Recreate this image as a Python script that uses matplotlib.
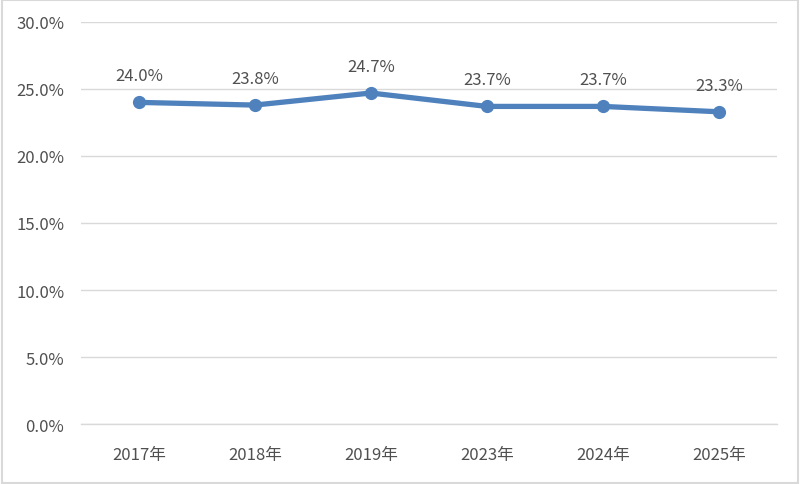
import matplotlib
matplotlib.use("Agg")
from matplotlib import pyplot as plt
from matplotlib.patches import Rectangle
from matplotlib.ticker import FuncFormatter

plt.rcParams['font.family'] = ['Noto Sans CJK SC', 'DejaVu Sans']

# Data
years = ['2017年', '2018年', '2019年', '2023年', '2024年', '2025年']
rates = [24.0, 23.8, 24.7, 23.7, 23.7, 23.3]
labels = ['24.0%', '23.8%', '24.7%', '23.7%', '23.7%', '23.3%']

TEXT = '#505050'
GRID = '#d9d9d9'
BLUE = '#4f81bd'

fig = plt.figure(figsize=(8, 4.85), dpi=100)
ax = fig.add_axes([0.101, 0.1237, 0.87, 0.8289])

x = list(range(len(years)))
ax.plot(x, rates, color=BLUE, linewidth=3.8, marker='o', markersize=8.5,
        solid_capstyle='round', zorder=3)

for xi, yi, lab in zip(x, rates, labels):
    ax.annotate(lab, (xi, yi), xytext=(0, 13), textcoords='offset points',
                ha='center', va='bottom', fontsize=12, color=TEXT)

ax.set_xlim(-0.5, len(years) - 0.5)
ax.set_ylim(0, 30)
ax.set_yticks(range(0, 31, 5))
ax.yaxis.set_major_formatter(FuncFormatter(lambda v, p: f'{v:.1f}%'))
ax.set_xticks(x)
ax.set_xticklabels(years)

ax.grid(axis='y', color=GRID, linewidth=1)
ax.set_axisbelow(True)
for side in ['top', 'right', 'left']:
    ax.spines[side].set_visible(False)
ax.spines['bottom'].set_color(GRID)
ax.spines['bottom'].set_linewidth(1)
ax.tick_params(axis='both', length=0, labelsize=12, labelcolor=TEXT)
ax.tick_params(axis='x', pad=16)
ax.tick_params(axis='y', pad=12)

# Outer chart border
fig.patches.append(Rectangle((0.002, 0.003), 0.996, 0.994, transform=fig.transFigure,
                             fill=False, edgecolor=GRID, linewidth=1.5))

fig.savefig('out.png', dpi=100)
